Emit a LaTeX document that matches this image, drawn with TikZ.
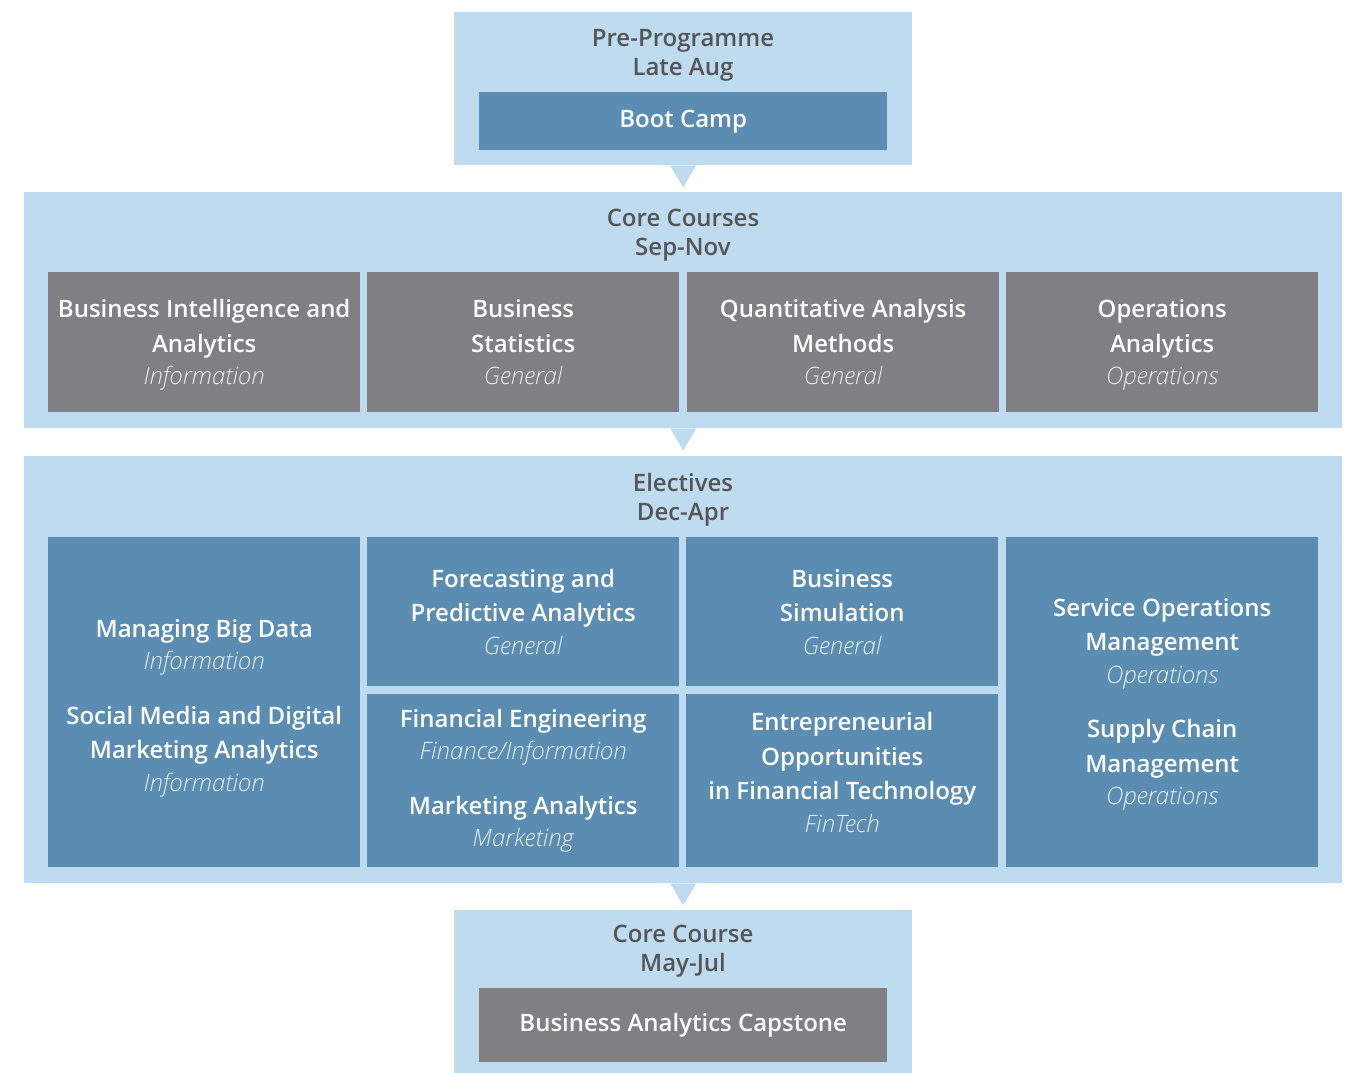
\documentclass[tikz,border=0pt]{standalone}
\usepackage{fontspec}
\setmainfont{Open Sans}[UprightFont={* Semibold},ItalicFont={* Light Italic},BoldFont={* Bold}]
\usetikzlibrary{calc}
\definecolor{panelc}{HTML}{BFDBEF}
\definecolor{bluec}{HTML}{5B8DB2}
\definecolor{grayc}{HTML}{808084}
\definecolor{headc}{HTML}{555555}
\definecolor{subc}{HTML}{E8EEF4}
\tikzset{
  panel/.style={fill=panelc,inner sep=0pt,anchor=north west},
  txt/.style={inner sep=0pt,text=white,align=center,font=\fontsize{24}{34.5}\selectfont},
  box/.style={txt,anchor=north west},
  bbox/.style={box,fill=bluec},
  gbox/.style={box,fill=grayc},
  head/.style={text=headc,align=center,font=\fontsize{24}{29}\selectfont,inner sep=0pt},
  pointer/.style={fill=panelc}
}
\newcommand{\sub}[1]{{\color{subc}\itshape #1}}
\begin{document}
\begin{tikzpicture}[x=1pt,y=-1pt]
\useasboundingbox (0,0) rectangle (1349,1073);
% panels
\node[panel,minimum width=458pt,minimum height=153pt] (pre) at (454,12) {};
\node[panel,minimum width=1318pt,minimum height=236pt] (core) at (24,192) {};
\node[panel,minimum width=1318pt,minimum height=427pt] (elec) at (24,456) {};
\node[panel,minimum width=458pt,minimum height=163pt] (cap) at (454,910) {};
% pointers
\fill[pointer] ($(pre.south)+(-13,0)$) -- ($(pre.south)+(13,0)$) -- ($(pre.south)+(0,22)$) -- cycle;
\fill[pointer] ($(core.south)+(-13,0)$) -- ($(core.south)+(13,0)$) -- ($(core.south)+(0,22)$) -- cycle;
\fill[pointer] ($(elec.south)+(-13,0)$) -- ($(elec.south)+(13,0)$) -- ($(elec.south)+(0,22)$) -- cycle;
% headers
\node[head] (h1) at (683,55) {Pre-Programme\\Late Aug};
\node[head] (h2) at (683,235) {Core Courses\\Sep-Nov};
\node[head] (h3) at (683,500) {Electives\\Dec-Apr};
\node[head] (h4) at (683,951) {Core Course\\May-Jul};
% boot camp
\node[bbox,minimum width=408pt,minimum height=58pt] (boot) at (479,92) {Boot Camp};
% core
\node[gbox,minimum width=312pt,minimum height=140pt,text depth=0pt] (c1) at (48,272) {Business Intelligence and\\Analytics\\[-2pt]\sub{Information}};
\node[gbox,minimum width=312pt,minimum height=140pt] (c2) at (367,272) {Business\\Statistics\\[-2pt]\sub{General}};
\node[gbox,minimum width=312pt,minimum height=140pt] (c3) at (687,272) {Quantitative Analysis\\Methods\\[-2pt]\sub{General}};
\node[gbox,minimum width=312pt,minimum height=140pt] (c4) at (1006,272) {};
\node[txt] (c4t) at ($(c4.center)+(0,3)$) {Operations\\Analytics\\[-2pt]\sub{Operations}};
% electives
\node[bbox,minimum width=312pt,minimum height=330pt] (e1) at (48,537) {};
\node[txt] (e1t) at ($(e1.center)+(0,6)$) {Managing Big Data\\[-2pt]\sub{Information}\\[20pt]Social Media and Digital\\Marketing Analytics\\[-2pt]\sub{Information}};
\node[bbox,minimum width=312pt,minimum height=149pt] (e2) at (367,537) {Forecasting and\\Predictive Analytics\\[-2pt]\sub{General}};
\node[bbox,minimum width=312pt,minimum height=149pt] (e3) at (686,537) {Business\\Simulation\\[-2pt]\sub{General}};
\node[bbox,minimum width=312pt,minimum height=173pt] (e4) at (367,694) {Financial Engineering\\[-2pt]\sub{Finance/Information}\\[20pt]Marketing Analytics\\[-2pt]\sub{Marketing}};
\node[bbox,minimum width=312pt,minimum height=173pt] (e5) at (686,694) {Entrepreneurial\\Opportunities\\in Financial Technology\\[-2pt]\sub{FinTech}\\[-18pt]};
\node[bbox,minimum width=312pt,minimum height=330pt] (e6) at (1006,537) {};
\node[txt] (e6t) at ($(e6.center)+(0,2)$) {Service Operations\\Management\\[-2pt]\sub{Operations}\\[20pt]Supply Chain\\Management\\[-2pt]\sub{Operations}};
% capstone
\node[gbox,minimum width=408pt,minimum height=74pt] (capst) at (479,988) {Business Analytics Capstone};
\end{tikzpicture}
\end{document}
